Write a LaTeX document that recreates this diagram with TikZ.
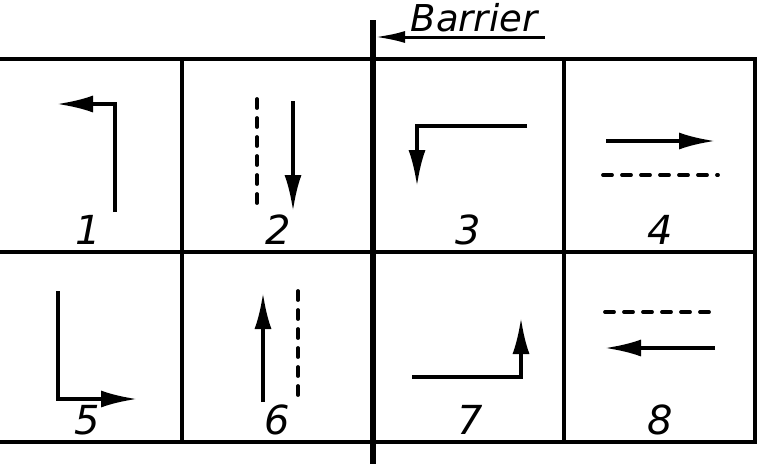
\documentclass[tikz,border=0pt]{standalone}
\usepackage{fontspec}
\setmainfont{DejaVu Sans}
\usetikzlibrary{arrows.meta}

\tikzset{
  grid/.style={line width=4pt},
  barrier/.style={line width=5.5pt},
  lane/.style={line width=3.6pt, line join=miter},
  move/.style={lane, -{Latex[length=36pt,width=17pt]}},
  gap/.style={line width=3.8pt, line cap=round, dash pattern=on 9pt off 10pt},
  num/.style={anchor=base, font=\fontsize{40}{42}\selectfont\itshape, inner sep=0pt}
}

\begin{document}
\begin{tikzpicture}[x=1pt,y=-1pt]
    \useasboundingbox (0,0) rectangle (761,464);

    % table
    \draw[grid] (0,59) -- (755,59);
    \draw[grid] (0,252) -- (755,252);
    \draw[grid] (0,442) -- (755,442);
    \draw[grid] (182,59) -- (182,442);
    \draw[grid] (564,59) -- (564,442);
    \draw[grid] (755,57) -- (755,444);

    % barrier
    \draw[barrier] (373,20) -- (373,464);
    \coordinate (bar) at (375,37);
    \coordinate (tag) at (545,37);
    \node[anchor=base, font=\fontsize{37}{39}\selectfont\itshape, inner sep=0pt]
        (barlabel) at (474,31) {Barrier};
    \draw[line width=3pt, -{Latex[length=30pt,width=12pt]}] (tag) -- (bar);

    % 1
    \draw[move] (115,212) -- (115,104) -- (57,104);
    \node[num] (n1) at (88,244) {1};
    % 2
    \draw[gap] (257,99) -- (257,212);
    \draw[move] (293,101) -- (293,211);
    \node[num] (n2) at (278,244) {2};
    % 3
    \draw[move] (527,126) -- (417,126) -- (417,186);
    \node[num] (n3) at (468,244) {3};
    % 4
    \draw[move] (606,141) -- (715,141);
    \draw[gap] (603,175) -- (718,175);
    \node[num] (n4) at (660,244) {4};

    % 5
    \draw[move] (58,291) -- (58,399) -- (137,399);
    \node[num] (n5) at (87,434) {5};
    % 6
    \draw[move] (263,402) -- (263,293);
    \draw[gap] (298,291) -- (298,404);
    \node[num] (n6) at (277,434) {6};
    % 7
    \draw[move] (412,377) -- (521,377) -- (521,318);
    \node[num] (n7) at (470,434) {7};
    % 8
    \draw[gap] (605,312) -- (713,312);
    \draw[move] (715,348) -- (605,348);
    \node[num] (n8) at (660,434) {8};
\end{tikzpicture}
\end{document}
